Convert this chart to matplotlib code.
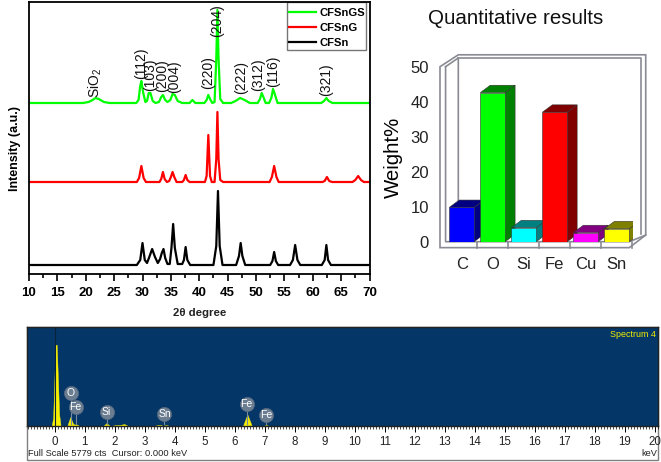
import matplotlib
matplotlib.use('Agg')
import matplotlib.pyplot as plt
from matplotlib.patches import Polygon, Rectangle
from matplotlib.ticker import MultipleLocator

plt.rcParams['font.family'] = ['Liberation Sans', 'DejaVu Sans']
plt.rcParams['mathtext.fontset'] = 'custom'
plt.rcParams['mathtext.rm'] = 'Liberation Sans'
plt.rcParams['mathtext.default'] = 'regular'

W, H = 661, 462

# XRD traces, intensity (a.u.)
green_x = [10, 19.5, 20.5, 21.2, 21.7, 22.3, 23.2, 24.2, 28.9, 29.3, 29.6, 29.8, 30.1, 30.5, 30.8, 31.1, 31.4, 31.8, 32.3,
           32.9, 33.3, 33.6, 34, 34.4, 34.9, 35.3, 35.7, 36.2, 37, 38.3, 38.8, 39.3, 40.9, 41.3, 41.6, 41.9, 42.3,
           42.7, 43, 43.2, 43.4, 43.7, 44.2, 45.6, 46.4, 47.2, 48, 48.9, 50.3, 50.7, 51, 51.3, 51.7,
           52.3, 52.7, 53, 53.3, 53.8, 61.5, 62, 62.4, 62.8, 63.5, 70]
green_y = [171, 171, 172, 174, 176, 175, 172, 171, 171, 174, 188, 193, 182, 172, 173, 181, 181, 173, 171,
           172, 177, 179, 174, 172, 174, 180, 179, 173, 171, 171, 174, 171, 171, 174, 179, 175, 171,
           172, 215, 264, 215, 175, 171, 171, 173, 176, 174, 171, 171, 175, 181, 177, 171,
           171, 176, 185, 180, 171, 171, 173, 176, 173, 171, 171]

red_x = [10, 29, 29.4, 29.8, 30.2, 30.6, 33, 33.3, 33.6, 33.9, 34.3, 34.7, 35, 35.3, 35.6, 36, 37, 37.3, 37.6, 37.9, 38.3,
         41, 41.3, 41.6, 41.9, 42.2, 42.7, 43, 43.2, 43.4, 43.7, 44.2, 52.4, 52.8, 53.2, 53.6, 54, 61.7, 62.1, 62.5, 62.9, 63.4,
         67, 67.5, 68, 68.5, 69, 70]
red_y = [92, 92, 96, 108, 96, 92, 92, 95, 102, 95, 92, 93, 97, 102, 97, 92, 92, 94, 99, 94, 92,
         92, 98, 139, 98, 92, 92, 115, 162, 115, 94, 92, 92, 97, 108, 97, 92, 92, 93, 97, 93, 92,
         92, 94, 98, 94, 92, 92]

black_x = [10, 29, 29.6, 30, 30.4, 30.8, 31.2, 31.7, 32.2, 32.7, 33.1, 33.4, 33.7, 34, 34.4, 34.8, 35.1, 35.4, 35.7, 36.2,
           37, 37.3, 37.6, 37.9, 38.4, 42.5, 43, 43.3, 43.6, 44.1, 46.5, 47, 47.3, 47.6, 48.1, 52.5, 52.9, 53.2, 53.5, 53.9,
           56, 56.5, 56.9, 57.3, 57.8, 61.6, 62.1, 62.4, 62.7, 63.2, 70]
black_y = [9, 9, 14, 31, 14, 11, 17, 25, 17, 11, 15, 21, 25, 16, 10, 10, 26, 50, 26, 10,
           10, 14, 27, 14, 9, 9, 28, 83, 28, 9, 9, 18, 31, 18, 9, 9, 13, 22, 13, 9,
           9, 14, 29, 14, 9, 9, 14, 29, 14, 9, 9]

plane_labels = ['SiO$_2$', '(112)', '(103)', '(200)', '(004)', '(220)', '(204)', '(222)', '(312)', '(116)', '(321)']
plane_x = [21.6, 29.7, 31.4, 33.4, 35.6, 41.5, 43.2, 47.3, 50.4, 53.0, 62.3]
plane_y = [176, 195, 183, 182, 181, 185, 237, 180, 183, 187, 178]

# bar chart
elements = ['C', 'O', 'Si', 'Fe', 'Cu', 'Sn']
weights = [9.8, 42.6, 4.0, 37.0, 2.6, 3.7]
front_colors = ['#0000ff', '#00ff00', '#00ffff', '#ff0000', '#ff00ff', '#ffff00']
side_colors = ['#000080', '#008000', '#008080', '#800000', '#800080', '#808000']

# EDS spectrum
eds_x = [-0.1, -0.05, 0.03, 0.07, 0.15, 0.2, 0.42, 0.52, 0.62, 0.68, 0.75, 0.82, 1.62, 1.73, 1.85, 2.05, 2.2, 2.32, 2.45,
         3.3, 3.45, 3.55, 3.6, 3.7, 3.85, 6.27, 6.42, 6.57, 6.95, 7.05, 7.15, 20]
eds_y = [0, 8, 82, 82, 12, 0, 0, 9, 2, 1.5, 1.5, 0, 0, 3, 0, 1, 1.2, 2, 0,
         0, 1, 1, 0, 1, 0, 0, 11.7, 0, 0, 1, 0, 0]
eds_peak_names = ['O', 'Fe', 'Si', 'Sn', 'Fe', 'Fe']
eds_peak_kev = [0.53, 0.70, 1.73, 3.66, 6.40, 7.05]
eds_peak_h = [33.5, 19, 14, 12, 22, 11]
eds_ticks = list(range(0, 21))


def px_axes(left, top, right, bottom):
    return fig.add_axes([left / W, 1 - bottom / H, (right - left) / W, (bottom - top) / H])


fig = plt.figure(figsize=(W / 100, H / 100), dpi=100, facecolor='white')

# ---- XRD panel
ax = px_axes(29, 2, 369.5, 274)
ax.plot(green_x, green_y, color='#00ff00', lw=1.6, label='CFSnGS')
ax.plot(red_x, red_y, color='#ff0000', lw=1.6, label='CFSnG')
ax.plot(black_x, black_y, color='black', lw=1.6, label='CFSn')
ax.set_xlim(10, 70)
ax.set_ylim(0, 272)
ax.set_yticks([])
ax.xaxis.set_major_locator(MultipleLocator(5))
ax.xaxis.set_minor_locator(MultipleLocator(2.5))
ax.tick_params(axis='x', which='major', length=5, width=1.2, pad=4)
ax.tick_params(axis='x', which='minor', length=3, width=1.2)
for t in ax.get_xticklabels():
    t.set_fontsize(9.5)
    t.set_fontweight('bold')
for s in ax.spines.values():
    s.set_linewidth(1.3)
for name, x, y in zip(plane_labels, plane_x, plane_y):
    ax.text(x, y, name, rotation=90, ha='center', va='bottom', fontsize=10, color='#111111')
ax.set_xlabel('2θ degree', fontsize=8.2, fontweight='bold', labelpad=7, color='#222222')
ax.set_ylabel('Intensity (a.u.)', fontsize=9, fontweight='bold', y=0.46, labelpad=6)
# legend frame drawn apart, the original has tight side margins but roomy top and bottom
ax.add_patch(Rectangle((0.758, 0.8235), 0.232, 0.176, transform=ax.transAxes, fc='white', ec='#777777', lw=1))
leg = ax.legend(loc='upper right', bbox_to_anchor=(0.992, 0.982), borderaxespad=0, frameon=False,
                fontsize=8.1, handlelength=2.35, handletextpad=0.35, labelspacing=0.42, borderpad=0.12)
for t in leg.get_texts():
    t.set_fontweight('semibold')

# ---- bar chart panel, zero at y=241.7 and 50 at y=66.7
bx = px_axes(440, 66.7, 633, 241.7)
bx.set_xlim(-0.7, 5.52)
bx.set_ylim(0, 50)
bx.patch.set_visible(False)
for s in bx.spines.values():
    s.set_visible(False)
dep_x, dep_y = 0.32, 2.1
half = 0.40
frame = '#8a8a94'
# walls of the box
bx.add_patch(Polygon([(-0.7, 50), (-0.11, 53.4), (5.93, 53.4), (5.93, 1.9), (5.4, -1.7), (-0.7, -1.7)],
                     closed=True, fill=False, ec=frame, lw=1.2, clip_on=False))
bx.plot([-0.11, 5.79, 5.79], [52.5, 52.5, 2.3], color=frame, lw=1.2, clip_on=False)
bx.plot([-0.52, -0.11, -0.11], [50, 52.5, 2.3], color=frame, lw=1.2, clip_on=False)
bx.plot([-0.52, -0.52, 5.4, 5.93], [50, 0, 0, 1.9], color=frame, lw=1.2, clip_on=False)
for i in range(6):
    bx.plot([i + 0.5, i + 0.5], [-1.7, 0], color=frame, lw=1.2, clip_on=False)
for i, v in enumerate(weights):
    l, r = i - half, i + half
    bx.add_patch(Polygon([(r, 0), (r + dep_x, dep_y), (r + dep_x, v + dep_y), (r, v)], fc=side_colors[i], ec='#333333', lw=0.4, zorder=3))
    bx.add_patch(Polygon([(l, v), (l + dep_x, v + dep_y), (r + dep_x, v + dep_y), (r, v)], fc=side_colors[i], ec='#333333', lw=0.4, zorder=3))
bx.bar(range(6), weights, width=half * 2, color=front_colors, edgecolor='#333333', linewidth=0.4, zorder=4)
bx.set_xticks(range(6), elements)
bx.set_yticks(range(0, 51, 10))
bx.tick_params(axis='x', length=0, pad=11, labelsize=12, labelcolor='#222222')
bx.tick_params(axis='y', length=0, pad=8, labelsize=12, labelcolor='#222222')
bx.set_ylabel('Weight%', fontsize=14.7, labelpad=5, y=0.48)
fig.text(516 / W, 1 - 18 / H, 'Quantitative results', fontsize=14.8, ha='center', va='center', color='#111111')

# ---- EDS panel
fig.add_artist(Rectangle((27 / W, 1 - 460 / H), 631 / W, 133 / H, transform=fig.transFigure, fc='white', ec='#808080', lw=1, zorder=-1))
ex = px_axes(27, 327, 658, 426)
ex.set_facecolor('#043667')
ex.fill_between(eds_x, eds_y, 0, color='#f7f000', lw=0.3)
ex.set_xlim(-0.92, 20.1)
ex.set_ylim(0, 100)
ex.set_yticks([])
ex.plot([0, 0], [0, 100], color='#0a2238', lw=0.8, zorder=1)
for x0, h0, name in zip(eds_peak_kev, eds_peak_h, eds_peak_names):
    ex.plot([x0, x0], [2, h0], color='#7a8aa0', lw=0.8, zorder=2)
    ex.scatter([x0], [h0], s=105, color='#6b7d90', edgecolors='#55677d', linewidths=0.5, zorder=3)
    ex.text(x0, h0, name, color='white', fontsize=7.5, ha='center', va='center', zorder=4)
ex.set_xticks(eds_ticks)
ex.xaxis.set_minor_locator(MultipleLocator(0.1))
ex.tick_params(axis='x', which='major', length=4, width=0.7, pad=3, labelsize=8.3, labelcolor='#222222')
ex.tick_params(axis='x', which='minor', length=2, width=0.5)
for s in ex.spines.values():
    s.set_color('#222222')
    s.set_linewidth(1)
ex.text(0.997, 0.92, 'Spectrum 4', color='#f4f000', fontsize=6.4, ha='right', va='center', transform=ex.transAxes)
fig.text(28 / W, 1 - 453 / H, 'Full Scale 5779 cts  Cursor: 0.000 keV', fontsize=6.7, va='center', color='#222222')
fig.text(657 / W, 1 - 453 / H, 'keV', fontsize=6.7, va='center', ha='right', color='#222222')

fig.savefig('out.png', dpi=100)
